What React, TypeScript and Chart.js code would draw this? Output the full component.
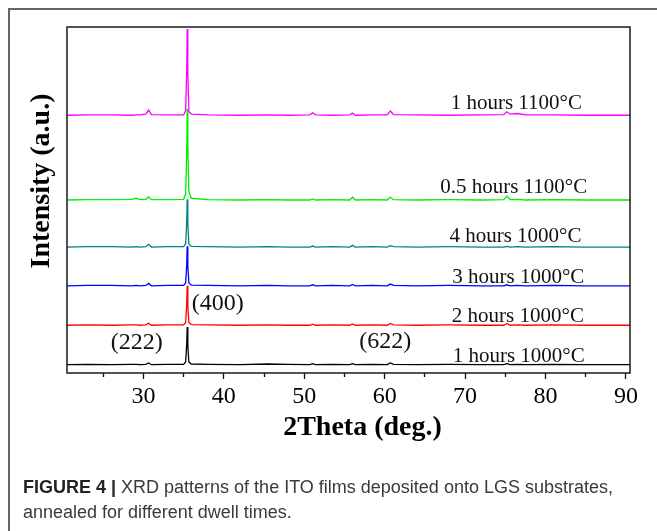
import React, { useEffect, useRef } from "react";
import { Chart, registerables } from "chart.js";

Chart.register(...registerables);

// 2θ sample positions (deg.)
const TWO_THETA = [
  20.5, 23, 26, 28.5, 29.1, 29.6, 30.3, 30.65, 31.0, 33,
  35.0, 35.25, 35.38, 35.45, 35.52, 35.65, 35.95, 38, 42, 45.5,
  48, 50.7, 51.05, 51.4, 53.5, 55.65, 56.0, 56.35, 58.5, 60.3,
  60.7, 61.1, 64, 68, 72, 74.8, 75.2, 75.6, 76.5, 77.5,
  81, 85, 88, 90.5,
];

// Intensities (a.u., offset stacked) for each sample
const I_1H_1000 = [
  2.4, 2.5, 2.4, 2.5, 2.5, 2.4, 2.5, 2.9, 2.4, 2.5,
  2.5, 3.2, 8.0, 13.3, 8.0, 3.2, 2.6, 2.5, 2.4, 2.6,
  2.5, 2.4, 2.7, 2.4, 2.5, 2.4, 2.7, 2.4, 2.5, 2.4,
  2.9, 2.5, 2.4, 2.5, 2.4, 2.4, 2.7, 2.4, 2.5, 2.4,
  2.5, 2.4, 2.4, 2.4,
];
const I_2H_1000 = [
  13.8, 13.9, 13.8, 13.9, 13.9, 13.8, 13.9, 14.4, 13.8, 13.9,
  13.9, 14.6, 19.5, 25.2, 19.5, 14.6, 14.0, 13.9, 13.8, 13.9,
  13.8, 13.8, 14.1, 13.8, 13.9, 13.8, 14.2, 13.8, 13.9, 13.8,
  14.3, 13.9, 13.8, 13.9, 13.8, 13.8, 14.3, 13.8, 13.9, 13.8,
  13.9, 13.8, 13.8, 13.8,
];
const I_3H_1000 = [
  25.2, 25.3, 25.3, 25.2, 25.3, 25.2, 25.3, 25.9, 25.2, 25.3,
  25.3, 26.0, 31.0, 36.6, 31.0, 26.0, 25.4, 25.3, 25.2, 25.3,
  25.2, 25.2, 25.5, 25.2, 25.3, 25.2, 25.6, 25.2, 25.3, 25.2,
  25.7, 25.3, 25.2, 25.3, 25.2, 25.2, 25.5, 25.2, 25.3, 25.2,
  25.3, 25.2, 25.2, 25.2,
];
const I_4H_1000 = [
  36.4, 36.5, 36.5, 36.4, 36.5, 36.4, 36.5, 37.2, 36.4, 36.5,
  36.5, 37.3, 43.3, 50.2, 43.3, 37.3, 36.6, 36.5, 36.4, 36.5,
  36.4, 36.4, 36.7, 36.4, 36.5, 36.4, 36.9, 36.4, 36.5, 36.4,
  36.8, 36.5, 36.4, 36.5, 36.4, 36.4, 36.6, 36.4, 36.5, 36.4,
  36.5, 36.4, 36.4, 36.4,
];
const I_05H_1100 = [
  50.0, 50.1, 50.1, 50.2, 50.5, 50.1, 50.2, 50.9, 50.1, 50.1,
  50.2, 51.8, 63.0, 76.3, 66.0, 52.5, 50.5, 50.1, 50.0, 50.1,
  50.0, 50.0, 50.3, 50.0, 50.1, 50.0, 50.8, 50.0, 50.1, 50.0,
  50.8, 50.1, 50.0, 50.1, 50.0, 50.1, 51.1, 50.1, 50.2, 50.0,
  50.1, 50.0, 50.0, 50.0,
];
const I_1H_1100 = [
  74.5, 74.6, 74.6, 74.5, 74.6, 74.6, 74.8, 76.0, 74.7, 74.6,
  74.6, 75.8, 87.0, 99.4, 87.0, 75.6, 74.8, 74.6, 74.5, 74.6,
  74.5, 74.6, 75.2, 74.6, 74.5, 74.6, 75.1, 74.5, 74.6, 74.6,
  75.7, 74.7, 74.6, 74.5, 74.6, 74.7, 75.5, 74.8, 75.0, 74.6,
  74.6, 74.5, 74.5, 74.5,
];

// top-most first (drawn on top)
const SERIES_NAMES = [
  "1 hours 1100°C",
  "0.5 hours 1100°C",
  "4 hours 1000°C",
  "3 hours 1000°C",
  "2 hours 1000°C",
  "1 hours 1000°C",
];
const SERIES_VALUES = [I_1H_1100, I_05H_1100, I_4H_1000, I_3H_1000, I_2H_1000, I_1H_1000];
const SERIES_COLORS = ["#ff00ff", "#00ee00", "#008080", "#0000ff", "#ff0000", "#000000"];
const LABEL_X = [68.2, 66.9, 68.05, 68.4, 68.35, 68.45];
const LABEL_Y = [76.3, 51.9, 37.9, 26.0, 14.75, 3.2];

const PEAK_LABELS = ["(222)", "(400)", "(622)"];
const PEAK_LABEL_X = [25.95, 36.0, 56.85];
const PEAK_LABEL_Y = [7.05, 18.3, 7.35];

const X_MAJOR = [30, 40, 50, 60, 70, 80, 90];
const X_MINOR = [25, 35, 45, 55, 65, 75, 85];
const X_MIN = 20.5;
const X_MAX = 90.5;
const X_TITLE = "2Theta (deg.)";
const Y_TITLE = "Intensity (a.u.)";

const SERIF = "'Liberation Serif', 'Times New Roman', serif";

const overlayPlugin = {
  id: "overlay",
  afterDraw(chart: any) {
    const { ctx, chartArea: a, scales } = chart;
    const x = scales.x;
    const y = scales.y;
    ctx.save();
    ctx.strokeStyle = "#1a1a1a";
    ctx.lineWidth = 1.5;
    ctx.strokeRect(a.left, a.top, a.right - a.left, a.bottom - a.top);

    ctx.fillStyle = "#111";
    ctx.textAlign = "left";
    ctx.textBaseline = "alphabetic";
    ctx.font = `21px ${SERIF}`;
    SERIES_NAMES.forEach((t, i) => {
      ctx.fillText(t, x.getPixelForValue(LABEL_X[i]), y.getPixelForValue(LABEL_Y[i]));
    });
    ctx.font = `24px ${SERIF}`;
    PEAK_LABELS.forEach((t, i) => {
      ctx.fillText(t, x.getPixelForValue(PEAK_LABEL_X[i]), y.getPixelForValue(PEAK_LABEL_Y[i]));
    });

    ctx.fillStyle = "#000";
    ctx.font = `bold 28px ${SERIF}`;
    ctx.textAlign = "center";
    ctx.fillText(X_TITLE, a.left + 295.5, a.bottom + 62);

    ctx.translate(a.left - 18.5, a.bottom - 104.5);
    ctx.rotate(-Math.PI / 2);
    ctx.textAlign = "left";
    ctx.fillText(Y_TITLE, 0, 0);
    ctx.restore();
  },
};

export default function App() {
  const ref = useRef<HTMLCanvasElement | null>(null);

  useEffect(() => {
    if (!ref.current) return;
    const datasets = SERIES_NAMES.map((name, i) => ({
      label: name,
      data: TWO_THETA.map((t, j) => ({ x: t, y: SERIES_VALUES[i][j] })),
      borderColor: SERIES_COLORS[i],
      backgroundColor: SERIES_COLORS[i],
      borderWidth: 1.3,
      pointRadius: 0,
      tension: 0,
      fill: false,
      xAxisID: "x",
      yAxisID: "y",
    }));
    const chart = new Chart(ref.current, {
      type: "line",
      data: { datasets },
      plugins: [overlayPlugin],
      options: {
        animation: false,
        responsive: false,
        devicePixelRatio: 1,
        layout: { padding: { left: 0, top: 27, right: 27, bottom: 0 } },
        plugins: { legend: { display: false }, tooltip: { enabled: false } },
        scales: {
          xMinor: {
            type: "linear",
            position: "bottom",
            weight: 0,
            min: X_MIN,
            max: X_MAX,
            afterBuildTicks: (s: any) => {
              s.ticks = X_MINOR.map((v) => ({ value: v }));
            },
            afterFit: (s: any) => {
              s.height = 0;
            },
            ticks: { display: false },
            grid: { drawOnChartArea: false, drawTicks: true, tickLength: 4, tickWidth: 1.3, tickColor: "#111" },
            border: { display: false },
          },
          x: {
            type: "linear",
            position: "bottom",
            weight: 1,
            min: X_MIN,
            max: X_MAX,
            afterBuildTicks: (s: any) => {
              s.ticks = X_MAJOR.map((v) => ({ value: v }));
            },
            afterFit: (s: any) => {
              s.height = 158;
            },
            ticks: {
              autoSkip: false,
              maxRotation: 0,
              padding: 3,
              color: "#000",
              font: { family: SERIF, size: 24 },
              callback: (v: any) => String(v),
            },
            grid: { drawOnChartArea: false, drawTicks: true, tickLength: 6, tickWidth: 1.3, tickColor: "#111" },
            border: { display: false },
          },
          y: {
            type: "linear",
            position: "left",
            min: 0,
            max: 100,
            afterFit: (s: any) => {
              s.width = 67;
            },
            ticks: { display: false },
            grid: { display: false },
            border: { display: false },
          },
        },
      },
    } as any);
    return () => chart.destroy();
  }, []);

  return (
    <div
      style={{
        position: "absolute",
        left: 0,
        top: 0,
        width: 657,
        height: 531,
        background: "#fff",
        overflow: "hidden",
      }}
    >
      <div
        style={{
          position: "absolute",
          left: 8,
          top: 8,
          width: 649,
          height: 0,
          borderTop: "2px solid #666",
        }}
      />
      <div
        style={{
          position: "absolute",
          left: 8,
          top: 8,
          width: 0,
          height: 523,
          borderLeft: "2px solid #666",
        }}
      />
      <canvas
        ref={ref}
        width={657}
        height={531}
        style={{ position: "absolute", left: 0, top: 0, width: 657, height: 531 }}
      />
      <div
        style={{
          position: "absolute",
          left: 23,
          top: 475,
          width: 634,
          whiteSpace: "nowrap",
          fontFamily: "'Liberation Sans', Arial, sans-serif",
          fontSize: 18,
          lineHeight: "25px",
          color: "#3a3a3a",
        }}
      >
        <span style={{ fontWeight: "bold", color: "#222" }}>FIGURE 4 | </span>
        XRD patterns of the ITO films deposited onto LGS substrates,
        <br />
        annealed for different dwell times.
      </div>
    </div>
  );
}
